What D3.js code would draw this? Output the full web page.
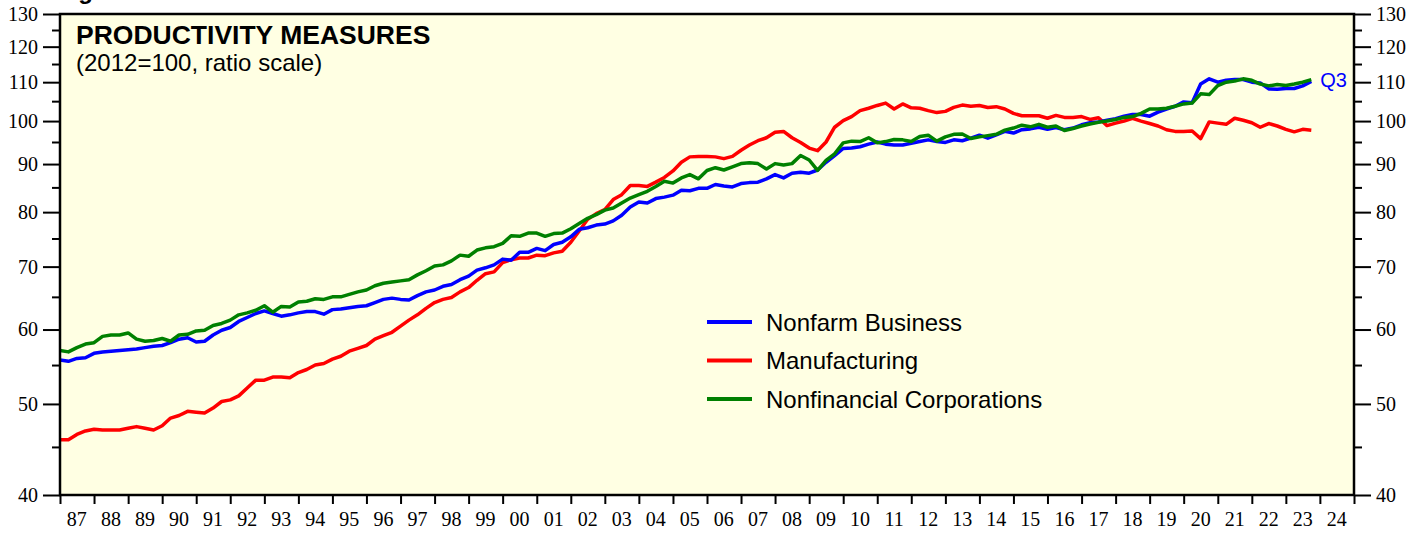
<!DOCTYPE html>
<html>
<head>
<meta charset="utf-8">
<script src="https://cdn.jsdelivr.net/npm/d3@7"></script>
<style>
  body { margin: 0; background: #fff; }
  .axis text { font-family: "Liberation Serif", "Times New Roman", serif; font-size: 20px; fill: #000; }
  .sans { font-family: "Liberation Sans", Arial, Helvetica, sans-serif; }
</style>
</head>
<body>
<div id="chart"></div>
<script>
// quarterly index values, 1986Q4 .. 2023Q3, each plotted at the end of its quarter
const nonfarm = [
  55.7, 55.5, 55.9, 56.0, 56.6, 56.8, 56.9, 57.0, 57.1, 57.2,
  57.4, 57.6, 57.7, 58.1, 58.6, 58.8, 58.2, 58.3, 59.2, 59.9,
  60.3, 61.2, 61.8, 62.4, 62.8, 62.4, 62.0, 62.2, 62.5, 62.7,
  62.7, 62.3, 63.0, 63.1, 63.3, 63.5, 63.6, 64.1, 64.6, 64.8,
  64.6, 64.5, 65.2, 65.8, 66.1, 66.7, 67.0, 67.8, 68.4, 69.4,
  69.8, 70.3, 71.3, 71.1, 72.5, 72.5, 73.2, 72.8, 73.9, 74.3,
  75.3, 76.7, 77.0, 77.5, 77.7, 78.3, 79.4, 81.0, 82.0, 81.8,
  82.7, 83.0, 83.4, 84.4, 84.3, 84.8, 84.8, 85.6, 85.3, 85.1,
  85.8, 86.0, 86.1, 86.8, 87.7, 87.0, 88.0, 88.2, 88.0, 88.7,
  90.4, 91.9, 93.5, 93.6, 93.9, 94.5, 95.0, 94.5, 94.3, 94.3,
  94.7, 95.1, 95.5, 95.1, 94.9, 95.5, 95.3, 95.9, 96.6, 95.9,
  96.7, 97.5, 97.1, 97.9, 98.1, 98.5, 98.0, 98.4, 97.9, 98.3,
  99.1, 99.6, 99.8, 100.2, 100.6, 101.2, 101.6, 101.6, 101.2, 102.2,
  103.0, 103.7, 104.8, 104.6, 109.5, 110.9, 110.0, 110.5, 110.7, 110.7,
  110.0, 109.8, 108.2, 108.1, 108.3, 108.3, 109.0, 110.2
];
const manufacturing = [
  45.8, 45.8, 46.4, 46.8, 47.0, 46.9, 46.9, 46.9, 47.1, 47.3,
  47.1, 46.9, 47.4, 48.3, 48.6, 49.1, 49.0, 48.9, 49.5, 50.3,
  50.5, 51.0, 52.0, 53.0, 53.0, 53.4, 53.4, 53.3, 54.0, 54.4,
  55.0, 55.2, 55.8, 56.2, 56.9, 57.3, 57.7, 58.6, 59.1, 59.6,
  60.5, 61.4, 62.2, 63.2, 64.1, 64.6, 64.9, 65.8, 66.5, 67.7,
  68.8, 69.1, 70.7, 71.2, 71.5, 71.5, 72.0, 71.9, 72.4, 72.7,
  74.3, 76.4, 78.6, 79.7, 80.5, 82.5, 83.5, 85.4, 85.4, 85.2,
  86.1, 87.1, 88.5, 90.4, 91.6, 91.7, 91.7, 91.6, 91.2, 91.7,
  93.1, 94.3, 95.3, 96.0, 97.3, 97.5, 96.0, 94.9, 93.6, 93.0,
  95.0, 98.5, 100.1, 101.1, 102.6, 103.2, 103.9, 104.5, 103.0, 104.3,
  103.3, 103.2, 102.6, 102.1, 102.4, 103.4, 104.0, 103.7, 103.9, 103.4,
  103.6, 103.0, 101.9, 101.3, 101.3, 101.3, 100.7, 101.4, 100.9, 100.9,
  101.1, 100.4, 100.8, 98.9, 99.5, 100.0, 100.7, 100.0, 99.4, 98.8,
  97.9, 97.5, 97.5, 97.6, 95.8, 99.8, 99.5, 99.2, 100.7, 100.2,
  99.6, 98.5, 99.4, 98.8, 98.0, 97.4, 98.0, 97.8
];
const nonfinancial = [
  57.0, 56.8, 57.4, 57.9, 58.1, 59.0, 59.2, 59.2, 59.5, 58.6,
  58.3, 58.4, 58.7, 58.3, 59.2, 59.3, 59.8, 59.9, 60.6, 60.9,
  61.4, 62.2, 62.5, 62.9, 63.6, 62.6, 63.5, 63.4, 64.2, 64.3,
  64.7, 64.6, 65.0, 65.0, 65.4, 65.8, 66.1, 66.8, 67.2, 67.4,
  67.6, 67.8, 68.6, 69.3, 70.1, 70.3, 71.0, 72.0, 71.8, 72.9,
  73.3, 73.5, 74.1, 75.5, 75.4, 76.0, 76.0, 75.4, 75.9, 76.0,
  76.8, 77.8, 78.8, 79.5, 80.4, 80.8, 81.8, 82.8, 83.5, 84.2,
  85.2, 86.3, 85.9, 87.0, 87.7, 86.8, 88.6, 89.2, 88.7, 89.4,
  90.1, 90.3, 90.1, 88.9, 90.1, 89.8, 90.1, 91.9, 90.9, 88.6,
  90.8, 92.3, 94.8, 95.2, 95.1, 96.0, 94.8, 95.1, 95.6, 95.5,
  95.1, 96.3, 96.6, 95.2, 96.2, 96.8, 96.9, 95.8, 96.2, 96.5,
  96.8, 97.8, 98.3, 99.0, 98.6, 99.2, 98.5, 98.8, 97.7, 98.2,
  98.8, 99.3, 99.7, 100.0, 100.4, 100.9, 101.1, 101.9, 103.0, 103.0,
  103.2, 103.7, 104.3, 104.5, 106.9, 106.7, 109.1, 110.0, 110.3, 110.9,
  110.5, 109.5, 109.0, 109.4, 109.1, 109.5, 110.0, 110.7
];
const seriesNames = ["Nonfarm Business", "Manufacturing", "Nonfinancial Corporations"];
const seriesColors = ["#0000ff", "#ff0000", "#008000"];
const yMajor = [40, 50, 60, 70, 80, 90, 100, 110, 120, 130];
const yMinor = [45, 55, 65, 75, 85, 95, 105, 115, 125];
const yearTicks = d3.range(1987, 2026);
const yearLabels = d3.range(1987, 2025);

const width = 1426, height = 535;
const margin = { top: 14, right: 72, bottom: 40, left: 60 };
const innerW = width - margin.left - margin.right;
const innerH = height - margin.top - margin.bottom;

const svg = d3.select("#chart").append("svg")
  .attr("width", width)
  .attr("height", height);

// figure caption, mostly above the top of the picture (only the "g" tail shows)
svg.append("text").attr("class", "sans")
  .attr("x", 57).attr("y", -1)
  .attr("font-size", 24).attr("font-weight", "bold")
  .text("Figure 1.");

const g = svg.append("g").attr("transform", `translate(${margin.left},${margin.top})`);

const x = d3.scaleTime()
  .domain([new Date(1987, 0, 1), new Date(2025, 0, 1)])
  .range([0, innerW]);
const y = d3.scaleLog()
  .domain([40, 130])
  .range([innerH, 0]);

g.append("rect")
  .attr("width", innerW).attr("height", innerH)
  .attr("fill", "#ffffe3");

g.append("clipPath").attr("id", "clip")
  .append("rect").attr("width", innerW).attr("height", innerH);

// left & right axes (major + minor ticks)
function yAxes(axisFn, tx) {
  const major = g.append("g").attr("class", "axis").attr("transform", `translate(${tx},0)`)
    .call(axisFn(y).tickValues(yMajor).tickFormat(d3.format("d")).tickSize(17).tickPadding(5));
  const minor = g.append("g").attr("class", "axis").attr("transform", `translate(${tx},0)`)
    .call(axisFn(y).tickValues(yMinor).tickFormat("").tickSize(8));
  [major, minor].forEach(a => {
    a.select(".domain").remove();
    a.selectAll("line").attr("stroke", "#000").attr("stroke-width", 2);
  });
}
yAxes(d3.axisLeft, 0);
yAxes(d3.axisRight, innerW);

// bottom axis: ticks at year boundaries, labels mid-year
const xTicks = g.append("g").attr("class", "axis").attr("transform", `translate(0,${innerH})`)
  .call(d3.axisBottom(x).tickValues(yearTicks.map(yr => new Date(yr, 0, 1))).tickFormat("").tickSize(9));
xTicks.select(".domain").remove();
xTicks.selectAll("line").attr("stroke", "#000").attr("stroke-width", 2);

g.append("g").attr("class", "axis")
  .selectAll("text")
  .data(yearLabels)
  .join("text")
  .attr("x", d => x(new Date(d, 6, 1)))
  .attr("y", innerH + 31)
  .attr("text-anchor", "middle")
  .text(d => String(d % 100).padStart(2, "0"));

// lines
const allSeries = [nonfarm, manufacturing, nonfinancial];
const line = d3.line()
  .x((d, i) => x(new Date(1987, i * 3, 1)))
  .y(d => y(d));

const lines = g.append("g").attr("clip-path", "url(#clip)");
// draw order: red, blue, green on top
[1, 0, 2].forEach(k => {
  lines.append("path")
    .datum(allSeries[k])
    .attr("fill", "none")
    .attr("stroke", seriesColors[k])
    .attr("stroke-width", 3.5)
    .attr("stroke-linejoin", "round")
    .attr("d", line);
});

// frame
g.append("rect")
  .attr("width", innerW).attr("height", innerH)
  .attr("fill", "none").attr("stroke", "#000").attr("stroke-width", 2.5);

// title
g.append("text").attr("class", "sans")
  .attr("x", 16).attr("y", 30)
  .attr("font-size", 26.5).attr("font-weight", "bold")
  .text("PRODUCTIVITY MEASURES");
g.append("text").attr("class", "sans")
  .attr("x", 16).attr("y", 57)
  .attr("font-size", 24)
  .text("(2012=100, ratio scale)");

// Q3 label at the end of the blue line
const lastIdx = nonfarm.length - 1;
g.append("text").attr("class", "sans")
  .attr("x", x(new Date(1987, lastIdx * 3, 1)) + 9)
  .attr("y", y(nonfarm[lastIdx]) + 6)
  .attr("font-size", 20)
  .attr("fill", "#0000ff")
  .text("Q3");

// legend
const legend = g.append("g").attr("transform", "translate(647,308)");
seriesNames.forEach((name, k) => {
  const row = legend.append("g").attr("transform", `translate(0,${k * 38.5})`);
  row.append("line")
    .attr("x1", 0).attr("x2", 45)
    .attr("stroke", seriesColors[k]).attr("stroke-width", 4);
  row.append("text").attr("class", "sans")
    .attr("x", 59).attr("y", 8.5)
    .attr("font-size", 24)
    .text(name);
});
</script>
</body>
</html>
